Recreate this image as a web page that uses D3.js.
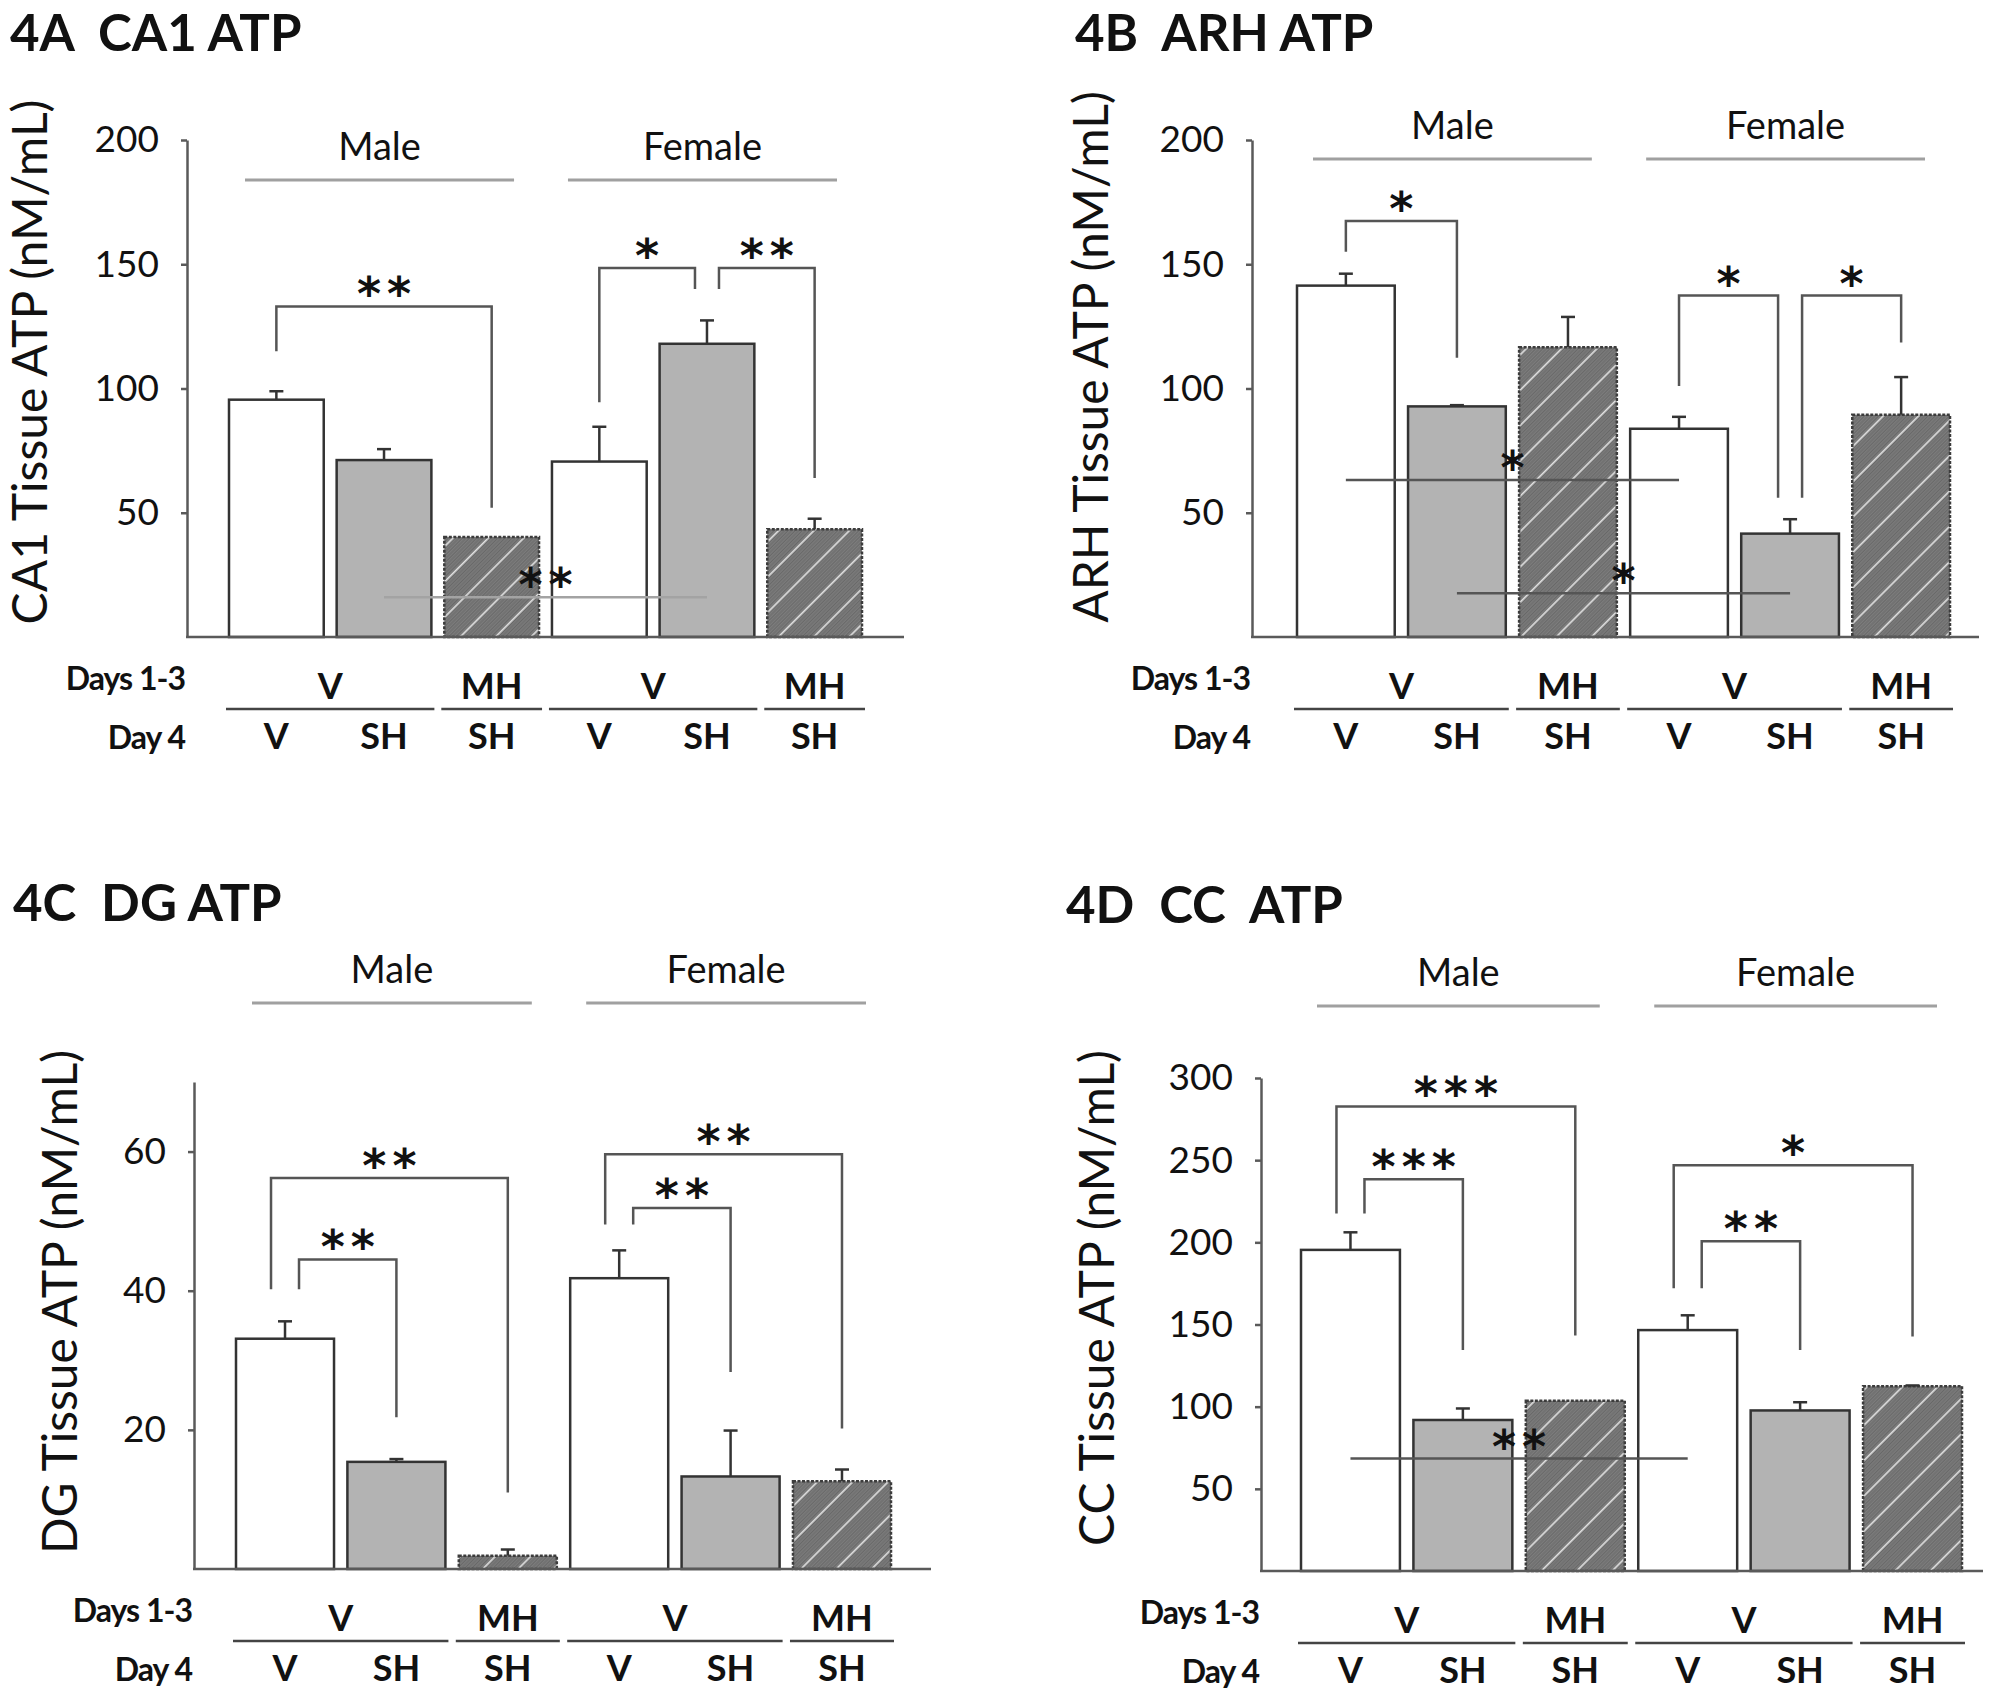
<!DOCTYPE html>
<html><head><meta charset="utf-8">
<script src="https://cdn.jsdelivr.net/npm/d3@7"></script>
<style>
body{margin:0;background:#fff}
svg text{font-family:Lato,'Open Sans',sans-serif;fill:#111}
</style>
</head><body>
<svg id="chart" width="2010" height="1700"></svg>
<script>
// ---------- data ----------
const conditions = ["Male V/V","Male V/SH","Male MH/SH","Female V/V","Female V/SH","Female MH/SH"];
const barKinds = ["open","gray","hatch","open","gray","hatch"];
const sexLabels = ["Male","Female"];
const days13Labels = ["V","MH","V","MH"];
const days13Spans = [[0,1],[2,2],[3,4],[5,5]];
const day4Labels = ["V","SH","SH","V","SH","SH"];
const rowLabelTop = "Days 1-3";
const rowLabelBottom = "Day 4";

const panelTitles = ["4A  CA1 ATP","4B  ARH ATP","4C  DG ATP","4D  CC  ATP"];
const yAxisLabels = ["CA1 Tissue ATP (nM/mL)","ARH Tissue ATP (nM/mL)","DG Tissue ATP (nM/mL)","CC Tissue ATP (nM/mL)"];

const ca1Mean = [95.5, 71.2, 40.2, 70.6, 118.0, 43.4];
const ca1Err  = [3.4, 4.4, 0, 14.0, 9.4, 4.2];
const ca1Ticks = [50,100,150,200];
const ca1Max = 200;
// [fromBar, toBar, bracketTop, leftLegEnd, rightLegEnd, label]
const ca1Brackets = [[0,2,133,115,52,"**"],[3,4,148.5,94.5,140,"*"],[4,5,148.5,140,64,"**"]];
// [fromBar, toBar, level, label]
const ca1Lines = [[1,4,16,"**"]];

const arhMean = [141.4, 92.8, 116.6, 83.8, 41.6, 89.4];
const arhErr  = [4.8, 0.5, 12.2, 4.8, 5.8, 15.2];
const arhTicks = [50,100,150,200];
const arhMax = 200;
const arhBrackets = [[0,1,167.4,155,112.4,"*"],[3,4,137.4,101,56,"*"],[4,5,137.4,56,118.5,"*"]];
const arhLines = [[0,3,63.2,"*"],[1,4,17.6,"*"]];

const dgMean = [33.1, 15.4, 1.9, 41.8, 13.3, 12.6];
const dgErr  = [2.5, 0.4, 0.9, 4.0, 6.6, 1.7];
const dgTicks = [20,40,60];
const dgMax = 70;
const dgBrackets = [[0,2,56.2,40.2,11,"**"],[0,1,44.5,40.2,21.8,"**"],[3,5,59.6,49.5,20.2,"**"],[3,4,51.9,49.5,28.3,"**"]];
const dgLines = [];

const ccMean = [195.4, 91.9, 103.6, 146.6, 97.7, 112.4];
const ccErr  = [10.7, 7.0, 0, 9.0, 5.0, 0.5];
const ccTicks = [50,100,150,200,250,300];
const ccMax = 300;
const ccBrackets = [[0,2,282.7,217.6,143.3,"***"],[0,1,238.4,217.6,134.5,"***"],[3,5,246.9,172,142.7,"*"],[3,4,200.7,172,134.5,"**"]];
const ccLines = [[0,3,68.4,"**"]];

// ---------- drawing ----------
const svg = d3.select("#chart");
const defs = svg.append("defs");
const pat = defs.append("pattern").attr("id","hatch").attr("patternUnits","userSpaceOnUse")
  .attr("width",25).attr("height",25).attr("patternTransform","rotate(45)");
pat.append("rect").attr("width",25).attr("height",25).attr("fill","#7c7c7c");
for (let i=2.5;i<25;i+=2.5) pat.append("line").attr("x1",i).attr("x2",i).attr("y1",0).attr("y2",25)
  .attr("stroke","#686868").attr("stroke-width",1);
pat.append("line").attr("x1",0.8).attr("x2",0.8).attr("y1",0).attr("y2",25).attr("stroke","#e0e0e0").attr("stroke-width",1.6);

const fills = {open:"#ffffff", gray:"#b3b3b3", hatch:"url(#hatch)"};

const layouts = [
  {ox:187, xEnd:904, barL:229, barR:862, y0:637, yTop:140, groupY:180, titleX:10, titleY:51, ylabX:47, ylabY:362, strayColor:"#a3a3a3"},
  {ox:1252, xEnd:1979, barL:1297, barR:1950, y0:637, yTop:140, groupY:159, titleX:1075, titleY:51, ylabX:1108, ylabY:357, strayColor:"#555"},
  {ox:194, xEnd:931, barL:236, barR:891, y0:1569, yTop:1082, groupY:1003, titleX:13, titleY:921, ylabX:77, ylabY:1302, strayColor:"#555"},
  {ox:1261, xEnd:1983, barL:1301, barR:1962, y0:1571, yTop:1078, groupY:1006, titleX:1066, titleY:923, ylabX:1114, ylabY:1298, strayColor:"#555"}
];
const panelData = [
  [ca1Mean, ca1Err, ca1Ticks, ca1Max, ca1Brackets, ca1Lines],
  [arhMean, arhErr, arhTicks, arhMax, arhBrackets, arhLines],
  [dgMean, dgErr, dgTicks, dgMax, dgBrackets, dgLines],
  [ccMean, ccErr, ccTicks, ccMax, ccBrackets, ccLines]
];

function legDx(b, end, all) {
  const k = end === "L" ? b[0] : b[1];
  const others = all.filter(o => o !== b && (o[0] === k || o[1] === k));
  if (!others.length) return 0;
  const o = others[0];
  if (end === "R") return -12;
  if (o[1] === k) return 12;
  return (b[1]-b[0]) > (o[1]-o[0]) ? -14 : 14;
}

function starText(g, x, yBase, label) {
  g.append("text").attr("x", x).attr("y", yBase).attr("dx", 3).attr("text-anchor","middle")
    .style("font-family","'DejaVu Sans'").style("font-weight","bold").style("font-size","46px")
    .style("letter-spacing","6px").text(label);
}

panelData.forEach((pd, p) => {
  const [means, errs, ticks, maxV, brackets, strays] = pd;
  const L = layouts[p];
  const g = svg.append("g");
  const x = d3.scaleBand().domain(d3.range(conditions.length)).range([L.barL, L.barR]).paddingInner(0.12).paddingOuter(0);
  const y = d3.scaleLinear().domain([0, maxV]).range([L.y0, L.yTop]);
  const bw = x.bandwidth();

  // title
  g.append("text").attr("x", L.titleX).attr("y", L.titleY).style("white-space","pre")
    .style("font-weight","bold").style("font-size","51px").text(panelTitles[p]);

  // y axis label
  g.append("text").attr("transform", `translate(${L.ylabX},${L.ylabY}) rotate(-90)`)
    .attr("text-anchor","middle").style("font-size","48px").text(yAxisLabels[p]);

  // group labels and lines
  [[0,2],[3,5]].forEach((s, i) => {
    const x1 = x(s[0]) + 16, x2 = x(s[1]) + bw - 25;
    g.append("line").attr("x1",x1).attr("x2",x2).attr("y1",L.groupY).attr("y2",L.groupY)
      .attr("stroke","#a0a0a0").attr("stroke-width",3);
    g.append("text").attr("x",(x1+x2)/2).attr("y",L.groupY-20).attr("text-anchor","middle")
      .style("font-size","38px").text(sexLabels[i]);
  });

  // bars
  g.selectAll("rect.bar").data(means).join("rect").attr("class","bar")
    .attr("x",(d,i)=>x(i)).attr("y",d=>y(d)).attr("width",bw).attr("height",d=>L.y0-y(d))
    .attr("fill",(d,i)=>fills[barKinds[i]])
    .attr("stroke",(d,i)=>barKinds[i]==="hatch"?"#3c3c3c":"#333")
    .attr("stroke-dasharray",(d,i)=>barKinds[i]==="hatch"?"3,1.5":null)
    .attr("stroke-width",2.5);

  // error bars
  means.forEach((m,i)=>{
    if (errs[i] <= 0) return;
    const cx = x(i) + bw/2;
    g.append("line").attr("x1",cx).attr("x2",cx).attr("y1",y(m)).attr("y2",y(m+errs[i]))
      .attr("stroke","#333").attr("stroke-width",2.5);
    g.append("line").attr("x1",cx-7).attr("x2",cx+7).attr("y1",y(m+errs[i])).attr("y2",y(m+errs[i]))
      .attr("stroke","#333").attr("stroke-width",2.5);
  });

  // axes
  const yAxis = d3.axisLeft(y).tickValues(ticks).tickSize(6).tickSizeOuter(0).tickPadding(22);
  const ag = g.append("g").attr("transform",`translate(${L.ox},0)`).call(yAxis);
  ag.select(".domain").attr("stroke","#5a5a5a").attr("stroke-width",2.5);
  ag.selectAll(".tick line").attr("stroke","#5a5a5a").attr("stroke-width",2.5);
  ag.selectAll(".tick text").style("font-family","Lato").style("font-size","37px").attr("fill","#111");
  g.append("line").attr("x1",L.ox-1).attr("x2",L.xEnd).attr("y1",L.y0).attr("y2",L.y0)
    .attr("stroke","#5a5a5a").attr("stroke-width",2.5);

  // significance brackets
  brackets.forEach(b => {
    const xl = x(b[0]) + bw/2 + legDx(b,"L",brackets);
    const xr = x(b[1]) + bw/2 + legDx(b,"R",brackets);
    g.append("path").attr("d",`M${xl},${y(b[3])}V${y(b[2])}H${xr}V${y(b[4])}`)
      .attr("fill","none").attr("stroke","#555").attr("stroke-width",2.5);
    starText(g, (xl+xr)/2, y(b[2]) + 4, b[5]);
  });
  strays.forEach(s => {
    const x1 = x(s[0]) + bw/2, x2 = x(s[1]) + bw/2;
    g.append("line").attr("x1",x1).attr("x2",x2).attr("y1",y(s[2])).attr("y2",y(s[2]))
      .attr("stroke",L.strayColor).attr("stroke-width",2.5);
    starText(g, (x1+x2)/2, y(s[2]) + 4, s[3]);
  });

  // category rows
  g.append("text").attr("x",L.ox-2).attr("y",L.y0+53).attr("text-anchor","end")
    .style("font-weight","bold").style("font-size","32px").style("letter-spacing","-1px").text(rowLabelTop);
  g.append("text").attr("x",L.ox-2).attr("y",L.y0+112).attr("text-anchor","end")
    .style("font-weight","bold").style("font-size","32px").style("letter-spacing","-1px").text(rowLabelBottom);
  days13Spans.forEach((s,i)=>{
    const x1 = x(s[0]) - 3, x2 = x(s[1]) + bw + 3;
    g.append("line").attr("x1",x1).attr("x2",x2).attr("y1",L.y0+72).attr("y2",L.y0+72)
      .attr("stroke","#444").attr("stroke-width",2.5);
    g.append("text").attr("x",(x1+x2)/2).attr("y",L.y0+62).attr("text-anchor","middle")
      .style("font-weight","bold").style("font-size","36px").text(days13Labels[i]);
  });
  day4Labels.forEach((t,i)=>{
    g.append("text").attr("x",x(i)+bw/2).attr("y",L.y0+112).attr("text-anchor","middle")
      .style("font-weight","bold").style("font-size","36px").text(t);
  });
});
</script>
</body></html>
